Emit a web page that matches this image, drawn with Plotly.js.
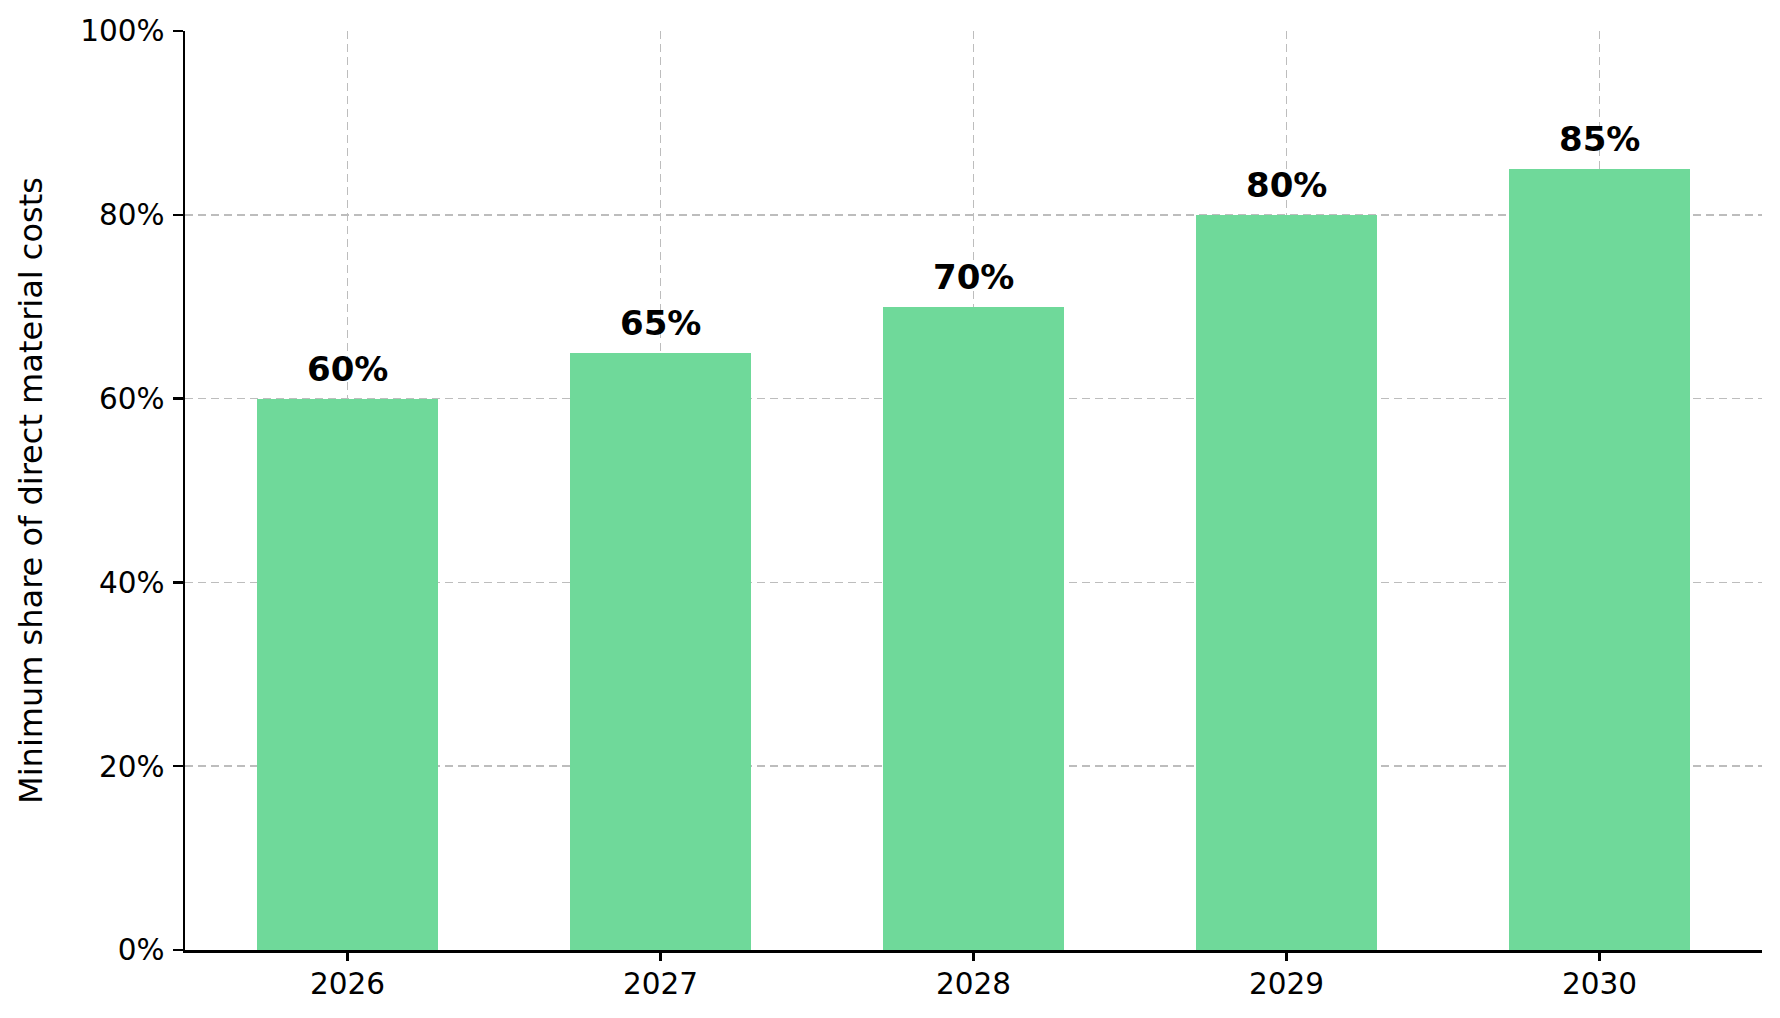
<!DOCTYPE html>
<html>
<head>
<meta charset="utf-8">
<script src="https://cdn.plot.ly/plotly-3.0.1.min.js"></script>
<style>html,body{margin:0;padding:0;background:#fff;}#chart{width:1780px;height:1018px;}</style>
</head>
<body>
<div id="chart"></div>
<script>
const years = ["2026", "2027", "2028", "2029", "2030"];
const shares = [60, 65, 70, 80, 85];
const labels = ["60%", "65%", "70%", "80%", "85%"];
const yTicks = [0, 20, 40, 60, 80, 100];
const yTickText = ["0%", "20%", "40%", "60%", "80%", "100%"];

const FONT = "DejaVu Sans, Liberation Sans, sans-serif";

const trace = {
  type: "bar",
  x: years,
  y: shares,
  width: 0.58,
  marker: {color: "#6fd99a", line: {width: 0}},
  hoverinfo: "skip"
};

const annotations = years.map((yr, i) => ({
  x: i, y: shares[i], xref: "x", yref: "y",
  text: "<b>" + labels[i] + "</b>",
  showarrow: false, yanchor: "bottom", yshift: 8,
  font: {family: FONT, size: 34, color: "#000"}
}));

const layout = {
  width: 1780, height: 1018,
  margin: {l: 185, r: 18, t: 31, b: 68, pad: 0},
  paper_bgcolor: "#fff", plot_bgcolor: "#fff",
  showlegend: false,
  font: {family: FONT, color: "#000"},
  bargap: 0,
  xaxis: {
    type: "category",
    range: [-0.519, 4.519],
    showline: true, linecolor: "#000", linewidth: 2.5, mirror: false,
    ticks: "outside", ticklen: 8, tickwidth: 2.5, tickcolor: "#000",
    tickfont: {family: FONT, size: 29.5, color: "#000"},
    ticklabelstandoff: -2,
    showgrid: true, gridcolor: "#bdbdbd", gridwidth: 1.6, griddash: "8px,5px",
    zeroline: false, fixedrange: true
  },
  yaxis: {
    range: [0, 100],
    tickvals: yTicks, ticktext: yTickText,
    showline: true, linecolor: "#000", linewidth: 2.5, mirror: false,
    ticks: "outside", ticklen: 10, tickwidth: 2.5, tickcolor: "#000",
    tickfont: {family: FONT, size: 29.5, color: "#000"},
    ticklabelstandoff: 2,
    showgrid: true, gridcolor: "#bdbdbd", gridwidth: 1.6, griddash: "8px,5px",
    zeroline: false, automargin: false, fixedrange: true,
    title: {text: "Minimum share of direct material costs", font: {family: FONT, size: 32, color: "#000"}, standoff: 28}
  },
  annotations: annotations
};

Plotly.newPlot("chart", [trace], layout, {displayModeBar: false, staticPlot: true});
</script>
</body>
</html>
